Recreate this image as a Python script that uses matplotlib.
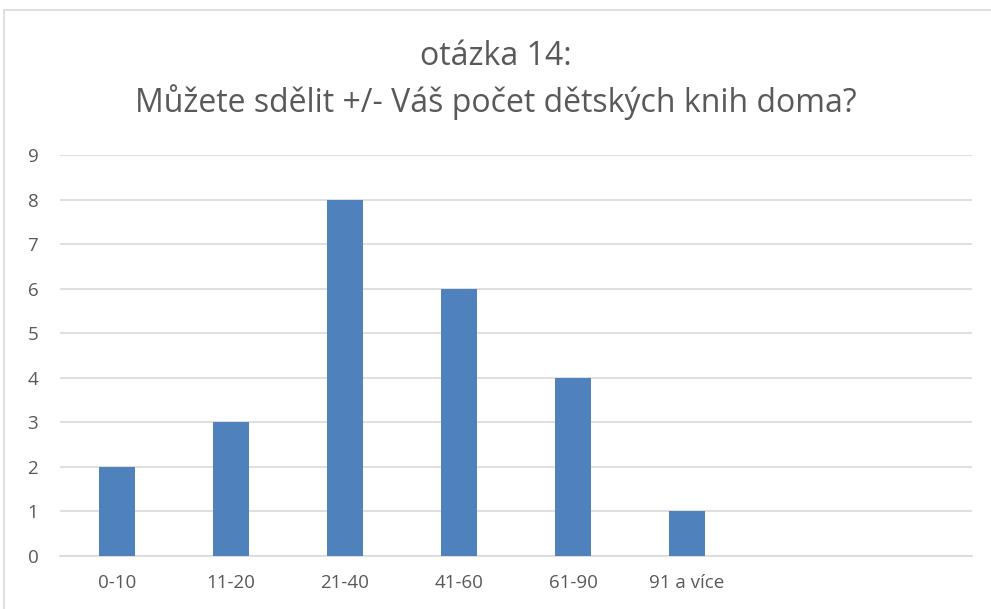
import matplotlib
matplotlib.use("Agg")
import matplotlib.pyplot as plt
from matplotlib.patches import Rectangle

categories = ["0-10", "11-20", "21-40", "41-60", "61-90", "91 a více", "", ""]
values = [2, 3, 8, 6, 4, 1, 0, 0]
yticks = list(range(0, 10))
title = "otázka 14:\nMůžete sdělit +/- Váš počet dětských knih doma?"

plt.rcParams['font.family'] = ['Open Sans', 'DejaVu Sans']

fig = plt.figure(figsize=(9.91, 6.09), dpi=100)
fig.patches.append(Rectangle((4/991, -0.05), 1.2, 0.05 + 1 - 10/609, transform=fig.transFigure,
                             fill=False, edgecolor='#d9d9d9', linewidth=1.2))
ax = fig.add_axes([60/991, 1 - 556/609, 912/991, (556 - 155)/609])

x = list(range(len(categories)))
ax.bar(x, values, width=0.31, color='#4F81BD', zorder=3)
ax.set_xlim(-0.5, len(categories) - 0.5)
ax.set_ylim(0, 9)
ax.set_yticks(yticks)
ax.set_xticks(x)
ax.set_xticklabels(categories)
ax.grid(axis='y', color='#d9d9d9', linewidth=1.2, zorder=0)
for s in ['top', 'right', 'left']:
    ax.spines[s].set_visible(False)
ax.spines['bottom'].set_color('#d9d9d9')
ax.spines['bottom'].set_linewidth(1.2)
ax.tick_params(axis='both', length=0, labelsize=13.5, colors='#595959')
ax.tick_params(axis='x', pad=13)
ax.tick_params(axis='y', pad=19.5)
for lbl in ax.get_yticklabels():
    lbl.set_horizontalalignment('center')
fig.text(0.5, 1 - 80/609, title, ha='center', va='center', fontsize=23,
         color='#595959', linespacing=1.42)
fig.savefig("out.png", dpi=100)
